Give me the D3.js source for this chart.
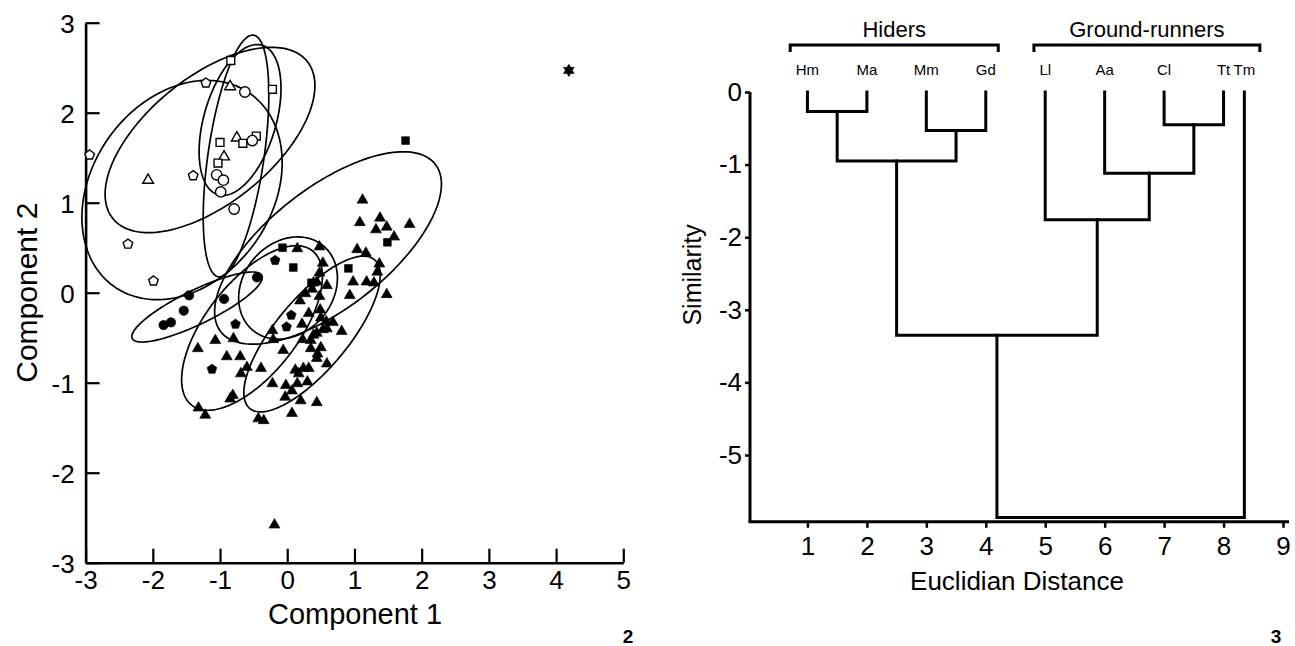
<!DOCTYPE html>
<html>
<head>
<meta charset="utf-8">
<script src="https://cdn.jsdelivr.net/npm/d3@7"></script>
<style>
  body { margin: 0; background: #fff; }
  svg text { font-family: "Liberation Sans", Arial, sans-serif; fill: #000; }
</style>
</head>
<body>
<svg id="chart" width="1295" height="646"></svg>
<script>
// ---- figure 2 : PCA scatter ----
const openPentagons = [[-2.94,1.53],[-1.21,2.33],[-1.40,1.30],[-2.37,0.54],[-1.99,0.13]];
const openTriangles = [[-2.07,1.25],[-0.85,2.29],[-0.75,1.72],[-0.94,1.51]];
const openSquares = [[-0.84,2.58],[-0.22,2.26],[-1.00,1.67],[-0.66,1.66],[-0.46,1.74],[-1.03,1.44]];
const openCircles = [[-0.63,2.23],[-0.52,1.69],[-1.05,1.31],[-0.95,1.25],[-0.99,1.12],[-0.79,0.93]];
const filledCircles = [[-0.45,0.17],[-0.94,-0.07],[-1.46,-0.03],[-1.54,-0.20],[-1.84,-0.36],[-1.73,-0.33]];
const filledPentagons = [[-0.18,0.36],[-0.77,-0.35],[-1.12,-0.85],[0.06,-0.25],[-0.01,-0.38]];
const filledSquares = [[1.76,1.69],[1.49,0.56],[0.91,0.27],[-0.07,0.50],[0.09,0.28],[0.36,0.11]];
const filledTriangles = [
  [1.12,1.03],[1.08,0.78],[1.38,0.83],[1.32,0.70],[1.48,0.73],[1.82,0.76],[1.59,0.62],
  [1.04,0.48],[1.17,0.44],[1.37,0.32],[1.34,0.23],[0.98,0.12],[1.18,0.12],[1.29,0.11],
  [0.93,-0.03],[1.48,-0.02],[0.48,0.51],[0.15,0.49],[0.53,0.33],[0.48,0.22],[0.39,0.11],
  [0.44,0.12],[0.59,0.08],[0.37,0.04],[0.27,-0.01],[0.19,-0.09],[0.48,-0.04],[0.49,-0.19],
  [0.32,-0.23],[0.50,-0.28],[0.58,-0.32],[0.68,-0.33],[0.59,-0.40],[0.53,-0.41],[0.81,-0.43],
  [0.22,-0.35],[0.39,-0.47],[0.44,-0.45],[0.23,-0.52],[0.35,-0.53],[0.35,-0.62],[0.50,-0.61],
  [0.45,-0.68],[0.44,-0.73],[0.59,-0.79],[-0.22,-0.42],[-0.21,-0.52],[-0.06,-0.64],
  [-1.07,-0.53],[-0.80,-0.51],[-1.33,-0.62],[-0.90,-0.71],[-0.70,-0.71],[-0.60,-0.83],
  [-0.39,-0.84],[-0.69,-0.90],[0.12,-0.86],[0.24,-0.84],[0.32,-0.84],[0.17,-0.90],
  [-0.22,-1.01],[-0.02,-1.03],[0.15,-1.01],[0.30,-0.99],[0.07,-1.09],[-0.03,-1.16],
  [0.20,-1.20],[0.44,-1.22],[0.07,-1.34],[-0.81,-1.14],[-0.85,-1.18],[-1.32,-1.28],
  [-1.22,-1.36],[-0.43,-1.40],[-0.35,-1.42],[-0.19,-2.58]
];
const starPoints = [[4.19,2.47]];

// confidence ellipses: centre and two conjugate semi-axes (component units)
// [cx, cy, ux, uy, vx, vy]
const ellipses = [
  [-1.565, 1.141, 1.008, 1.074, 1.097, -0.574],
  [-1.149, 1.697, 1.445, 0.874, 0.590, -0.544],
  [-0.762, 1.519, 0.261, 1.342, 0.4125, -0.0448],
  [-0.702, 1.919, 0.327, 0.831, 0.514, -0.113],
  [0.607, 0.497, 1.595, 0.931, 0.550, -0.525],
  [0.012, 0.052, 0.526, 0.468, 0.513, -0.3215],
  [0.369, -0.459, 0.928, 0.826, 0.410, -0.257],
  [-0.524, -0.392, 0.898, 0.858, 0.539, -0.315],
  [-1.342, -0.159, 0.964, 0.350, 0.1106, -0.170]
];

const xTicks1 = [-3,-2,-1,0,1,2,3,4,5];
const yTicks1 = [-3,-2,-1,0,1,2,3];

// ---- figure 3 : dendrogram ----
const leafNames = ["Hm","Ma","Mm","Gd","Ll","Aa","Cl","Tt","Tm"];
const leafPos = [1,2,3,4,5,6,7,8,8.35];
// [child a, child b, height]; new nodes are numbered after the leaves
const merges = [
  [0,1,-0.27],[2,3,-0.53],[9,10,-0.95],[6,7,-0.45],
  [5,12,-1.12],[4,13,-1.76],[11,14,-3.35],[15,8,-5.86]
];
const groups = [
  {name: "Hiders", from: 0.71, to: 4.21},
  {name: "Ground-runners", from: 4.81, to: 8.61}
];
const xTicks2 = [1,2,3,4,5,6,7,8,9];
const yTicks2 = [0,-1,-2,-3,-4,-5];

const svg = d3.select("#chart");

// ================= left panel =================
const x1 = d3.scaleLinear().domain([-3, 5]).range([85.6, 623.3]);
const y1 = d3.scaleLinear().domain([-3, 3]).range([562.7, 22.7]);

const left = svg.append("g");

const ax1 = left.append("g")
  .attr("transform", `translate(${x1(-3)},0)`)
  .call(d3.axisLeft(y1).tickValues(yTicks1).tickSize(-14).tickSizeOuter(0).tickPadding(11).tickFormat(d => d));
const bx1 = left.append("g")
  .attr("transform", `translate(0,${y1(-3)})`)
  .call(d3.axisBottom(x1).tickValues(xTicks1).tickSize(-14).tickSizeOuter(0).tickPadding(8).tickFormat(d => d));
[ax1, bx1].forEach(g => {
  g.select(".domain").attr("stroke", "#000").attr("stroke-width", 2.6);
  g.selectAll(".tick line").attr("stroke", "#000").attr("stroke-width", 2.2);
  g.selectAll(".tick text").attr("font-size", 26).attr("font-family", "Liberation Sans, Arial, sans-serif");
});
ax1.selectAll(".tick text").attr("dy", "0.36em");
bx1.selectAll(".tick text").attr("dy", "0.72em");

// ellipses
const ellLine = d3.line().x(d => x1(d[0])).y(d => y1(d[1])).curve(d3.curveLinearClosed);
const angles = d3.range(0, 2 * Math.PI, Math.PI / 90);
left.append("g").selectAll("path")
  .data(ellipses)
  .join("path")
  .attr("d", e => ellLine(angles.map(t => [
    e[0] + e[2] * Math.cos(t) + e[4] * Math.sin(t),
    e[1] + e[3] * Math.cos(t) + e[5] * Math.sin(t)
  ])))
  .attr("fill", "none")
  .attr("stroke", "#000")
  .attr("stroke-width", 1.7);

// custom symbols
const symbolPentagon = {
  draw(context, size) {
    const r = Math.sqrt(size / 2.378);
    for (let i = 0; i < 5; i++) {
      const a = -Math.PI / 2 + i * 2 * Math.PI / 5;
      if (i === 0) context.moveTo(r * Math.cos(a), r * Math.sin(a));
      else context.lineTo(r * Math.cos(a), r * Math.sin(a));
    }
    context.closePath();
  }
};
const symbolHexagram = {
  draw(context, size) {
    const r = Math.sqrt(size / 1.6);
    for (let i = 0; i < 12; i++) {
      const a = -Math.PI / 2 + i * Math.PI / 6;
      const rr = i % 2 === 0 ? r : r / Math.sqrt(3);
      if (i === 0) context.moveTo(rr * Math.cos(a), rr * Math.sin(a));
      else context.lineTo(rr * Math.cos(a), rr * Math.sin(a));
    }
    context.closePath();
  }
};

const series = [
  {pts: openPentagons, type: symbolPentagon, size: 60, filled: false},
  {pts: openTriangles, type: d3.symbolTriangle, size: 50, filled: false},
  {pts: openSquares, type: d3.symbolSquare, size: 62, filled: false},
  {pts: openCircles, type: d3.symbolCircle, size: 85, filled: false},
  {pts: filledCircles, type: d3.symbolCircle, size: 70, filled: true},
  {pts: filledPentagons, type: symbolPentagon, size: 62, filled: true},
  {pts: filledSquares, type: d3.symbolSquare, size: 60, filled: true},
  {pts: filledTriangles, type: d3.symbolTriangle, size: 52, filled: true},
  {pts: starPoints, type: symbolHexagram, size: 60, filled: true}
];

series.forEach(s => {
  left.append("g").selectAll("path")
    .data(s.pts)
    .join("path")
    .attr("transform", d => `translate(${x1(d[0])},${y1(d[1])})`)
    .attr("d", d3.symbol().type(s.type).size(s.size))
    .attr("fill", s.filled ? "#000" : "#fff")
    .attr("stroke", "#000")
    .attr("stroke-width", s.filled ? 0.6 : 1.4);
});

left.append("text")
  .attr("x", 355)
  .attr("y", 624)
  .attr("text-anchor", "middle")
  .attr("font-size", 29)
  .text("Component 1");
left.append("text")
  .attr("transform", `translate(37,${y1(0)}) rotate(-90)`)
  .attr("text-anchor", "middle")
  .attr("font-size", 30)
  .text("Component 2");
left.append("text")
  .attr("x", 628).attr("y", 643)
  .attr("text-anchor", "middle")
  .attr("font-size", 19).attr("font-weight", "bold")
  .text("2");

// ================= right panel =================
const x2 = d3.scaleLinear().domain([0, 9]).range([748, 1283]);
const y2 = d3.scaleLinear().domain([0, -5.92]).range([92, 521.8]);

const right = svg.append("g");

const ax2 = right.append("g")
  .attr("transform", `translate(${x2(0) + 2},0)`)
  .call(d3.axisLeft(y2).tickValues(yTicks2).tickSize(5).tickSizeOuter(0).tickPadding(3).tickFormat(d => d));
const bx2 = right.append("g")
  .attr("transform", `translate(0,${y2(-5.92)})`)
  .call(d3.axisBottom(x2).tickValues(xTicks2).tickSize(6).tickSizeOuter(0).tickPadding(8).tickFormat(d => d));
[ax2, bx2].forEach(g => {
  g.select(".domain").attr("stroke", "#000").attr("stroke-width", 3);
  g.selectAll(".tick line").attr("stroke", "#000").attr("stroke-width", 2.5);
  g.selectAll(".tick text").attr("font-size", 26).attr("font-family", "Liberation Sans, Arial, sans-serif");
});
bx2.selectAll(".tick text").attr("dy", "0.72em");
ax2.select(".domain").attr("d", `M0,${y2(0)}V${y2(-5.92)}`);
bx2.select(".domain").attr("d", `M${x2(0) + 0.5},0H${x2(9) + 6}`);

// dendrogram nodes
const nodeX = leafPos.slice();
const nodeH = leafPos.map(() => 0);
merges.forEach(m => {
  nodeX.push((nodeX[m[0]] + nodeX[m[1]]) / 2);
  nodeH.push(m[2]);
});
right.append("g").selectAll("path")
  .data(merges)
  .join("path")
  .attr("d", m => `M${x2(nodeX[m[0]])},${y2(nodeH[m[0]])}V${y2(m[2])}H${x2(nodeX[m[1]])}V${y2(nodeH[m[1]])}`)
  .attr("fill", "none")
  .attr("stroke", "#000")
  .attr("stroke-width", 3)
  .attr("stroke-linejoin", "miter")
  .attr("stroke-linecap", "square");

right.append("g").selectAll("text")
  .data(leafNames)
  .join("text")
  .attr("x", (d, i) => x2(leafPos[i]))
  .attr("y", 75)
  .attr("text-anchor", "middle")
  .attr("font-size", 15)
  .text(d => d);

const gb = right.append("g").selectAll("g").data(groups).join("g");
gb.append("path")
  .attr("d", g => `M${x2(g.from)},52V45H${x2(g.to)}V52`)
  .attr("fill", "none").attr("stroke", "#000").attr("stroke-width", 3);
gb.append("text")
  .attr("x", g => (x2(g.from) + x2(g.to)) / 2)
  .attr("y", 37)
  .attr("text-anchor", "middle")
  .attr("font-size", 22)
  .text(g => g.name);

right.append("text")
  .attr("x", 1017)
  .attr("y", 590)
  .attr("text-anchor", "middle")
  .attr("font-size", 26)
  .text("Euclidian Distance");
right.append("text")
  .attr("transform", `translate(701,${(y2(0) + y2(-5.92)) / 2 - 32}) rotate(-90)`)
  .attr("text-anchor", "middle")
  .attr("font-size", 25)
  .text("Similarity");
right.append("text")
  .attr("x", 1276).attr("y", 643)
  .attr("text-anchor", "middle")
  .attr("font-size", 19).attr("font-weight", "bold")
  .text("3");
</script>
</body>
</html>
